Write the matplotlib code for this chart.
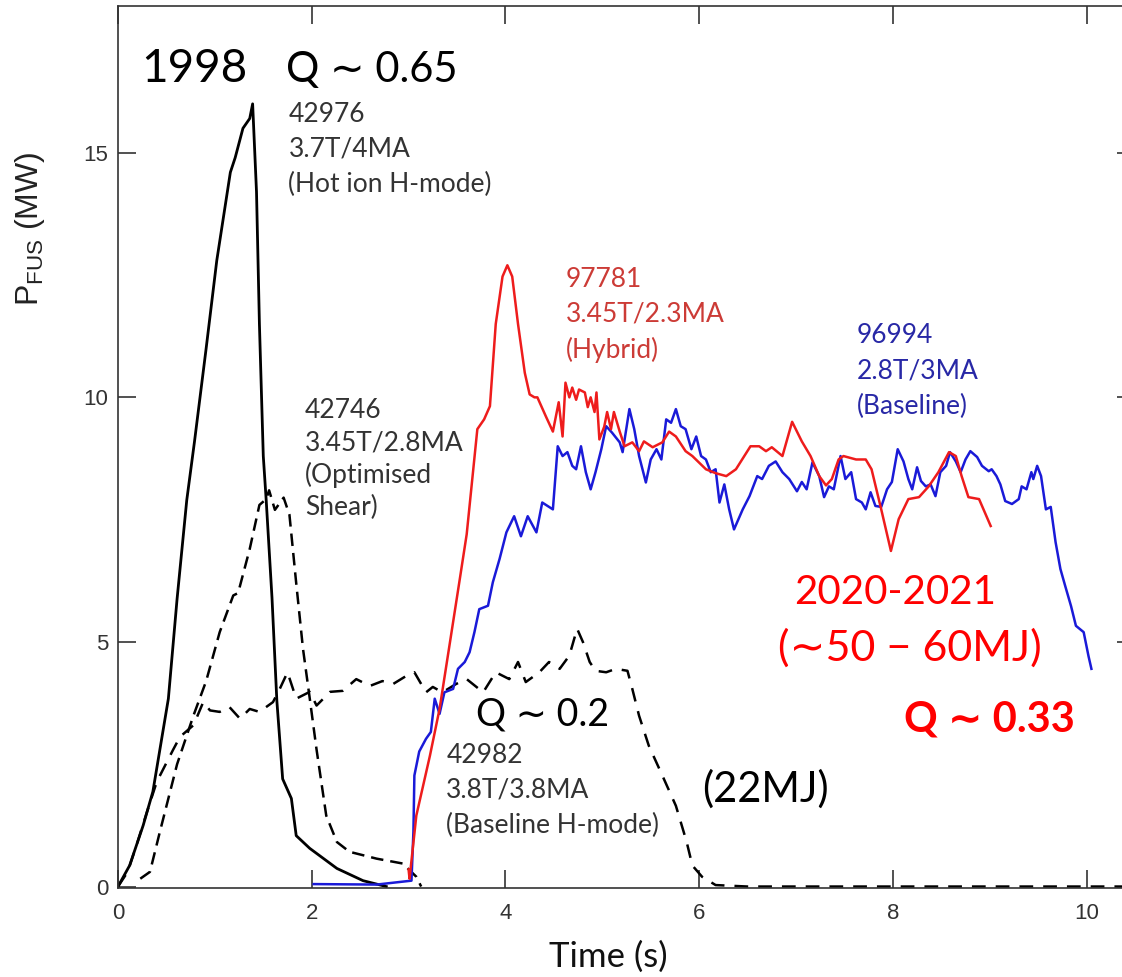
"""JET fusion power: 1998 DT record pulses vs. 2020-2021 DTE2 pulses."""
import matplotlib
matplotlib.use("Agg")
import matplotlib.pyplot as plt

# 42976, hot ion H-mode (black solid)
t_hot = [0.0, 0.12, 0.26, 0.36, 0.52, 0.61, 0.71, 0.79, 0.91, 1.02, 1.16, 1.21, 1.29,
         1.36, 1.39, 1.43, 1.46, 1.50, 1.53, 1.59, 1.64, 1.70, 1.79, 1.84, 1.98, 2.26,
         2.53, 2.77]
p_hot = [0.0, 0.43, 1.25, 1.94, 3.84, 5.88, 7.9, 9.1, 11.0, 12.8, 14.6, 14.9, 15.5,
         15.7, 16.0, 14.2, 11.5, 8.8, 7.9, 5.9, 3.8, 2.2, 1.8, 1.04, 0.78, 0.37,
         0.12, 0.0]

# 42746, optimised shear (black short dash)
t_shear = [0.23, 0.33, 0.43, 0.61, 0.78, 0.91, 1.05, 1.19, 1.24, 1.36, 1.46, 1.53,
           1.56, 1.62, 1.71, 1.77, 1.84, 1.91, 1.98, 2.05, 2.15, 2.26, 2.39, 2.67,
           2.94, 3.08, 3.13]
p_shear = [0.16, 0.3, 1.1, 2.5, 3.5, 4.2, 5.2, 5.95, 6.0, 6.9, 7.8, 7.92,
           8.1, 7.7, 7.95, 7.6, 6.2, 4.86, 3.84, 2.8, 1.45, 0.91, 0.71, 0.57,
           0.47, 0.2, 0.0]

# 42982, baseline H-mode (black long dash)
t_base98 = [0.0, 0.1, 0.2, 0.30, 0.40, 0.57, 0.64, 0.78, 0.88, 0.95, 1.05, 1.15, 1.26,
            1.36, 1.46, 1.60, 1.67, 1.75, 1.84, 1.98, 2.05, 2.19, 2.32, 2.46, 2.60,
            2.73, 2.84, 2.98, 3.06, 3.18, 3.25, 3.35, 3.49, 3.60, 3.77, 3.90, 4.04,
            4.13, 4.21, 4.35, 4.45, 4.56, 4.66, 4.74, 4.80, 4.87, 4.93, 5.04, 5.14,
            5.26, 5.31, 5.38, 5.48, 5.62, 5.76, 5.87, 5.93, 6.03, 6.17, 6.5, 10.5]
p_base98 = [0.0, 0.3, 0.9, 1.53, 2.14, 2.8, 3.06, 3.3, 3.77, 3.6, 3.57, 3.67, 3.43,
            3.63, 3.57, 3.77, 4.04, 4.38, 3.84, 3.98, 3.7, 3.98, 4.0, 4.24, 4.1,
            4.2, 4.14, 4.31, 4.38, 3.97, 4.08, 3.97, 4.14, 4.24, 3.97, 4.38, 4.24,
            4.59, 4.18, 4.38, 4.59, 4.45, 4.72, 5.27, 5.0, 4.59, 4.41, 4.38, 4.45,
            4.41, 4.04, 3.49, 2.88, 2.27, 1.65, 0.92, 0.43, 0.2, 0.03, 0.0, 0.0]

# 97781, hybrid (red)
t_hyb = [3.0, 3.01, 3.08, 3.22, 3.32, 3.42, 3.53, 3.60, 3.71, 3.78, 3.84, 3.90, 3.97,
         4.02, 4.07, 4.13, 4.20, 4.25, 4.30, 4.33, 4.42, 4.49, 4.55, 4.59, 4.62,
         4.66, 4.69, 4.73, 4.76, 4.82, 4.85, 4.88, 4.92, 4.94, 4.97, 5.02, 5.05,
         5.09, 5.12, 5.18, 5.23, 5.31, 5.38, 5.43, 5.52, 5.62, 5.69, 5.76, 5.86,
         5.93, 6.07, 6.17, 6.28, 6.38, 6.53, 6.62, 6.69, 6.75, 6.86, 6.96, 7.06,
         7.15, 7.24, 7.31, 7.37, 7.44, 7.49, 7.62, 7.72, 7.78, 7.88, 7.98, 8.06,
         8.16, 8.27, 8.37, 8.47, 8.58, 8.65, 8.71, 8.78, 8.89, 9.01]
p_hyb = [0.35, 0.16, 1.45, 2.67, 3.63, 4.9, 6.3, 7.2, 9.35, 9.55, 9.82, 11.5, 12.47,
         12.7, 12.47, 11.5, 10.5, 10.06, 10.0, 10.0, 9.6, 9.3, 9.9, 9.2, 10.3,
         10.0, 10.2, 9.95, 10.16, 10.1, 9.8, 10.0, 9.7, 10.1, 9.14, 9.4, 9.7,
         9.35, 9.7, 9.3, 9.0, 9.08, 8.9, 9.1, 8.98, 9.08, 9.3, 9.2, 8.9,
         8.8, 8.53, 8.45, 8.39, 8.53, 9.0, 9.0, 8.9, 8.98, 8.8, 9.5, 9.1,
         8.8, 8.39, 8.2, 8.33, 8.73, 8.8, 8.73, 8.73, 8.53, 7.71, 6.86, 7.51,
         7.92, 7.96, 8.18, 8.47, 8.88, 8.8, 8.39, 7.96, 7.92, 7.37]

# 96994, baseline (blue)
t_bl = [2.02, 2.67, 3.03, 3.05, 3.06, 3.11, 3.18, 3.23, 3.27, 3.32, 3.37, 3.46, 3.51,
        3.58, 3.63, 3.68, 3.73, 3.82, 3.87, 3.94, 4.01, 4.09, 4.16, 4.23, 4.32,
        4.38, 4.49, 4.54, 4.59, 4.64, 4.69, 4.73, 4.78, 4.83, 4.88, 4.93, 4.99,
        5.04, 5.10, 5.18, 5.21, 5.28, 5.33, 5.38, 5.45, 5.50, 5.56, 5.61, 5.66,
        5.71, 5.76, 5.81, 5.86, 5.92, 5.97, 6.02, 6.07, 6.12, 6.17, 6.21, 6.26,
        6.31, 6.36, 6.45, 6.52, 6.60, 6.65, 6.72, 6.79, 6.86, 6.93, 7.01, 7.06,
        7.11, 7.17, 7.24, 7.29, 7.34, 7.39, 7.46, 7.51, 7.57, 7.62, 7.68, 7.72,
        7.77, 7.82, 7.88, 7.94, 7.99, 8.05, 8.11, 8.16, 8.20, 8.25, 8.29, 8.34,
        8.39, 8.44, 8.49, 8.55, 8.59, 8.65, 8.70, 8.75, 8.80, 8.87, 8.92, 8.99,
        9.02, 9.07, 9.11, 9.16, 9.23, 9.30, 9.33, 9.38, 9.43, 9.45, 9.49, 9.53,
        9.58, 9.63, 9.68, 9.73, 9.78, 9.84, 9.89, 9.97, 10.02, 10.05]
p_bl = [0.05, 0.04, 0.12, 1.12, 2.27, 2.76, 3.02, 3.16, 3.84, 3.53, 3.97, 4.04, 4.45,
        4.59, 4.79, 5.2, 5.67, 5.74, 6.22, 6.7, 7.24, 7.57, 7.16, 7.57, 7.24,
        7.85, 7.71, 9.0, 8.8, 8.88, 8.6, 8.53, 9.0, 8.47, 8.12, 8.47, 8.94,
        9.41, 9.28, 9.08, 8.88, 9.76, 9.35, 8.8, 8.26, 8.73, 8.94, 8.73, 9.55,
        9.48, 9.76, 9.41, 9.35, 8.94, 9.2, 8.8, 8.73, 8.47, 8.53, 7.85, 8.22,
        7.71, 7.3, 7.71, 7.98, 8.39, 8.33, 8.6, 8.69, 8.47, 8.33, 8.08, 8.27,
        8.12, 8.67, 8.39, 7.96, 8.18, 8.12, 8.8, 8.33, 8.47, 7.92, 7.85, 7.71,
        8.06, 7.78, 7.76, 8.12, 8.27, 8.94, 8.69, 8.33, 8.12, 8.57, 8.29, 8.18,
        8.22, 7.98, 8.47, 8.6, 8.88, 8.69, 8.47, 8.73, 8.9, 8.78, 8.6, 8.49,
        8.53, 8.39, 8.22, 7.88, 7.82, 7.92, 8.18, 8.12, 8.47, 8.33, 8.6, 8.39,
        7.71, 7.76, 7.04, 6.49, 6.14, 5.73, 5.33, 5.2, 4.71, 4.45]

x_ticks = [0, 2, 4, 6, 8, 10]
y_ticks = [0, 5, 10, 15]

plt.rcParams["mathtext.fontset"] = "custom"
plt.rcParams["mathtext.rm"] = "Liberation Sans"

CAL = ["Lato", "DejaVu Sans"]
RED = "#ee1c1c"
BLUE = "#1a1ad8"


def main():
    fig = plt.figure(figsize=(11.22, 9.77), dpi=100)
    ax = fig.add_axes([118 / 1122, 1 - 888 / 977, (1135 - 118) / 1122, 882 / 977])

    ax.plot(t_shear, p_shear, color="k", lw=1.8, dashes=(5, 2.8))
    ax.plot(t_base98, p_base98, color="k", lw=1.8, dashes=(5.5, 4.0))
    ax.plot(t_hot, p_hot, color="k", lw=2.0)
    ax.plot(t_bl, p_bl, color=BLUE, lw=1.8)
    ax.plot(t_hyb, p_hyb, color=RED, lw=1.8)

    ax.set_xlim(0, 10.5)
    ax.set_ylim(-0.03, 18.0)
    ax.set_xticks(x_ticks)
    ax.set_yticks(y_ticks)
    ax.tick_params(direction="in", top=True, right=True, length=13, width=1.2,
                   color="#333333", labelsize=16, labelcolor="#333333")
    ax.tick_params(axis="x", pad=11)
    ax.tick_params(axis="y", pad=7)
    for lab in ax.get_xticklabels() + ax.get_yticklabels():
        lab.set_family("Liberation Sans")
    for s in ax.spines.values():
        s.set_linewidth(1.2)
        s.set_color("#333333")

    ax.text(5.06, -0.0896, "Time (s)", transform=ax.get_xaxis_transform(),
            ha="center", va="baseline", fontsize=25, family=CAL, color="#111111")
    ax.text(-0.0865, 0.748, r"P$_{\mathrm{FUS}}$ (MW)", transform=ax.transAxes,
            rotation=90, ha="center", va="center", fontsize=23,
            family="Liberation Sans", color="#222222")

    small = dict(fontsize=19, family=CAL, va="top", linespacing=1.5)
    ax.text(1.76, 16.04, "42976\n3.7T/4MA\n(Hot ion H-mode)", color="#333333", **small)
    ax.text(1.93, 9.98, "42746\n3.45T/2.8MA\n(Optimised\nShear)", color="#333333",
            fontsize=19, family=CAL, va="top", linespacing=1.34)
    ax.text(4.62, 12.67, "97781\n3.45T/2.3MA\n(Hybrid)", color="#cc3b36", **small)
    ax.text(7.63, 11.51, "96994\n2.8T/3MA\n(Baseline)", color="#2828a6", **small)
    ax.text(3.39, 2.94, "42982\n3.8T/3.8MA\n(Baseline H-mode)", color="#333333", **small)

    ax.text(0.24, 16.45, "1998", fontsize=33, family=CAL, color="k", va="baseline")
    ax.text(1.73, 16.45, "Q \u223c 0.65", fontsize=30, family=CAL, color="k", va="baseline")
    ax.text(3.70, 3.29, "Q \u223c 0.2", fontsize=27, family=CAL, color="k", va="baseline")
    ax.text(6.03, 1.73, "(22MJ)", fontsize=30, family=CAL, color="k", va="baseline")
    ax.text(6.98, 5.78, "2020-2021", fontsize=29, family=CAL, color="#ff0000", va="baseline")
    ax.text(6.81, 4.61, "(\u223c50 \u2212 60MJ)", fontsize=31, family=CAL,
            color="#ff0000", va="baseline")
    ax.text(8.12, 3.16, "Q \u223c 0.33", fontsize=30, family=CAL, color="#ff0000",
            fontweight="bold", va="baseline")

    fig.savefig("out.png", dpi=100)


if __name__ == "__main__":
    main()
